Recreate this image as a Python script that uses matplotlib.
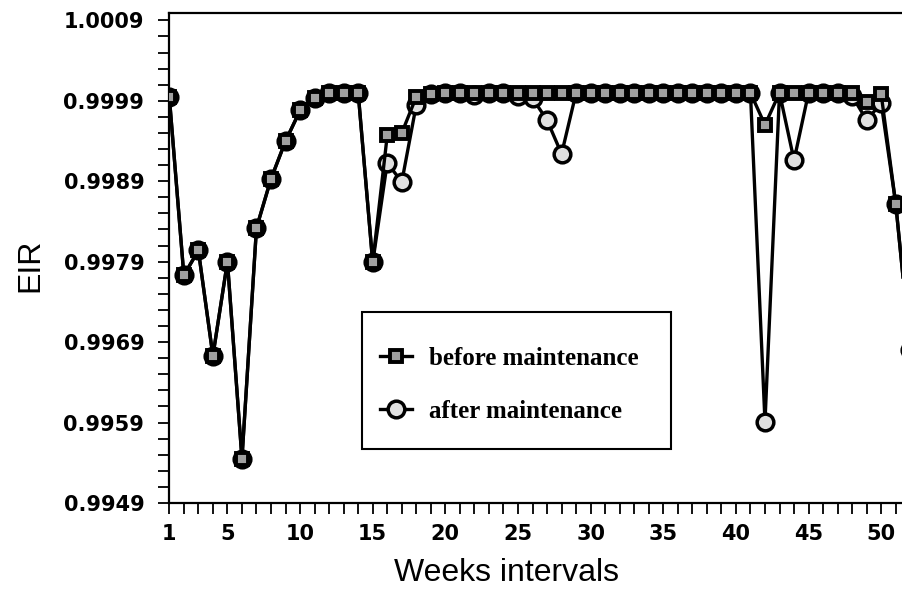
import matplotlib.pyplot as plt
from matplotlib.patches import Rectangle
import numpy as np

# EIR per week
weeks = list(range(1, 53))
before = [0.99995, 0.99773, 0.99804, 0.99673, 0.99790, 0.99545, 0.99832, 0.99893,
          0.99940, 0.99978, 0.99993, 1.00000, 1.00000, 1.00000, 0.99789, 0.99947,
          0.99950, 0.99995, 0.99999,
          1.00000, 1.00000, 1.00000, 1.00000, 1.00000, 1.00000, 1.00000, 1.00000,
          1.00000, 1.00000, 1.00000, 1.00000, 1.00000, 1.00000, 1.00000, 1.00000,
          1.00000, 1.00000, 1.00000, 1.00000, 1.00000, 1.00000,
          0.99960, 1.00000, 1.00000, 1.00000, 1.00000, 1.00000, 1.00000,
          0.99988, 0.99998, 0.99862, 0.99680]
after = [0.99995, 0.99773, 0.99804, 0.99673, 0.99790, 0.99545, 0.99832, 0.99893,
         0.99940, 0.99978, 0.99993, 1.00000, 1.00000, 1.00000, 0.99789, 0.99913,
         0.99889, 0.99985, 0.99999,
         1.00000, 1.00000, 0.99997, 1.00000, 1.00000, 0.99996, 0.99993, 0.99966,
         0.99924, 1.00000, 1.00000, 1.00000, 1.00000, 1.00000, 1.00000, 1.00000,
         1.00000, 1.00000, 1.00000, 1.00000, 1.00000, 1.00000,
         0.99591, 1.00000, 0.99916, 1.00000, 1.00000, 1.00000, 0.99996,
         0.99966, 0.99987, 0.99862, 0.99680]

xtick_pos = [1, 5, 10, 15, 20, 25, 30, 35, 40, 45, 50]
ytick_pos = [0.9949, 0.9959, 0.9969, 0.9979, 0.9989, 0.9999, 1.0009]
ytick_lab = ['0.9949', '0.9959', '0.9969', '0.9979', '0.9989', '0.9999', '1.0009']

fig = plt.figure(figsize=(9.03, 5.97), dpi=100)
ax = fig.add_axes([0.1875, 0.1575, 0.8125, 0.8205])

ax.plot(weeks, after, color='black', lw=2.4, marker='o', ms=12,
        mfc='#e0e0e0', mec='black', mew=2.5, label='after maintenance', zorder=3)
ax.plot(weeks, before, color='black', lw=2.4, marker='s', ms=8.5,
        mfc='#a0a0a0', mec='black', mew=2.8, label='before maintenance', zorder=4)

ax.set_xticks(xtick_pos)
ax.set_xticks(weeks, minor=True)
ax.set_yticks(ytick_pos)
ax.set_yticklabels(ytick_lab)
ax.set_yticks(np.arange(0.9949, 1.00095, 0.0002), minor=True)
# limits after the ticks, set_ticks widens the view otherwise
ax.set_xlim(1, 51.5)
ax.set_ylim(0.9949, 1.00099)

tick_font = dict(family='DejaVu Sans', weight='bold', size=15)
for lab in ax.get_xticklabels() + ax.get_yticklabels():
    lab.set_fontproperties(tick_font)
ax.tick_params(which='both', direction='out', length=8, width=1.3, color='black')
ax.tick_params(axis='y', which='major', pad=10)
ax.tick_params(axis='x', which='major', pad=7)

ax.spines['right'].set_visible(False)
for s in ['left', 'bottom', 'top']:
    ax.spines[s].set_linewidth(1.6)

fig.text(0.561, 0.040, 'Weeks intervals', ha='center', va='center',
         family='Liberation Sans', fontsize=23)
fig.text(0.034, 0.556, 'EIR', ha='center', va='center', rotation=90,
         family='Liberation Sans', fontsize=23)

# legend box drawn by hand, entries without frame
fig.patches.append(Rectangle((362 / 903, 1 - 449 / 597), 309 / 903, 137 / 597,
                             transform=fig.transFigure, fill=False,
                             edgecolor='black', lw=1.5))
handles, labels = ax.get_legend_handles_labels()
leg = ax.legend(handles[::-1], labels[::-1], loc='upper left',
                bbox_to_anchor=(380 / 903, 1 - 347 / 597), bbox_transform=fig.transFigure,
                prop=dict(family='Liberation Serif', weight='bold', size=18),
                frameon=False, handlelength=1.3, handletextpad=0.65, borderpad=0,
                labelspacing=1.2, borderaxespad=0)

plt.savefig('out.png', dpi=100)
